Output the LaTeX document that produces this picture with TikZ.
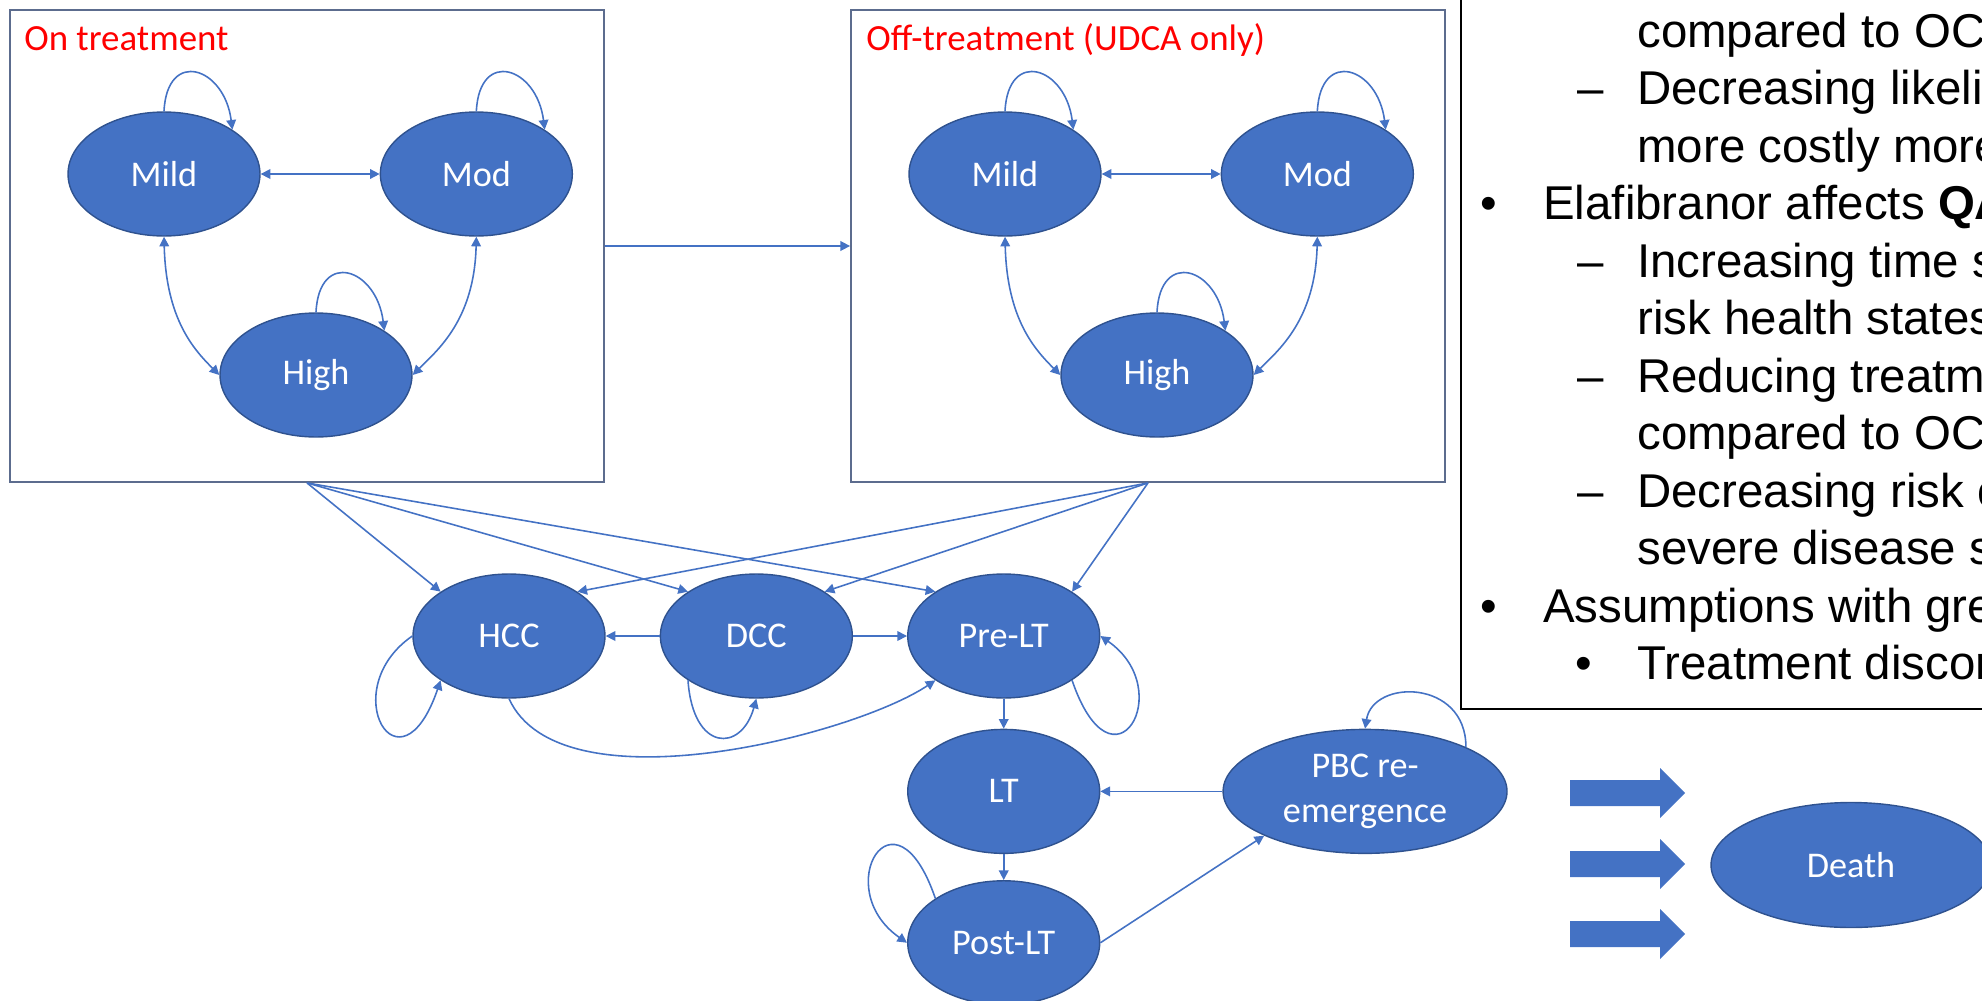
\documentclass[tikz,border=0pt]{standalone}
\usepackage{fontspec}
\setmainfont{Carlito}
\newfontfamily\notesfont{Liberation Sans}
\usepackage{tikz}
\usetikzlibrary{shapes.geometric, arrows.meta, positioning}
\definecolor{stateblue}{RGB}{68, 114, 196}
\definecolor{stateedge}{RGB}{47, 82, 143}
\definecolor{frameslate}{RGB}{92, 108, 142}
\definecolor{titlered}{RGB}{255, 0, 0}

\begin{document}
\begin{tikzpicture}[
    x=0.02cm, y=-0.02cm,
    >={Triangle[length=5.5pt, width=5.5pt]},
    state/.style={ellipse, draw=stateedge, line width=0.8pt, fill=stateblue, text=white,
                  minimum width=3.84cm, minimum height=2.48cm, inner sep=0pt,
                  font=\fontsize{20.6}{25.5}\selectfont, align=center},
    groupbox/.style={rectangle, draw=frameslate, line width=1.1pt,
                     minimum width=11.88cm, minimum height=9.44cm, inner sep=0pt},
    boxtitle/.style={anchor=base west, inner sep=0pt, text=titlered,
                     font=\fontsize{21}{24}\selectfont},
    link/.style={->, draw=stateblue, line width=0.9pt},
    twoway/.style={<->, draw=stateblue, line width=0.9pt},
    noteline/.style={anchor=base west, inner sep=0pt,
                     font=\notesfont\fontsize{27}{32}\selectfont}
]
    \useasboundingbox (0,0) rectangle (1982,1001);
    \clip (0,0) rectangle (1982,1001);

    % On treatment group
    \node[groupbox] (ontreat) at (307,246) {};
    \node[boxtitle] (ontitle) at (24,50) {On treatment};
    \node[state] (mildon) at (164,174) {Mild};
    \node[state, right=2.38cm of mildon] (modon) {Mod};
    \node[state] (highon) at (316,375) {High};

    % Off-treatment group
    \node[groupbox] (offtreat) at (1148,246) {};
    \node[boxtitle] (offtitle) at (866,50) {Off-treatment (UDCA only)};
    \node[state] (mildoff) at (1005,174) {Mild};
    \node[state, right=2.38cm of mildoff] (modoff) {Mod};
    \node[state] (highoff) at (1157,375) {High};

    % Complications
    \node[state] (hcc) at (509,636) {HCC};
    \node[state, right=1.08cm of hcc] (dcc) {DCC};
    \node[state, right=1.08cm of dcc] (prelt) {Pre-LT};
    \node[state, below=0.6cm of prelt] (lt) {LT};
    \node[state, below=0.52cm of lt] (postlt) {Post-LT};
    \node[state, minimum width=5.68cm, right=2.44cm of lt] (pbc) {PBC re-\\emergence};
    \node[state, minimum width=5.6cm, minimum height=2.5cm] (death) at (1851,865) {Death};

    % Notes panel
    \draw[line width=1.2pt] (1461,-20) rectangle (2100,709);
    \node[noteline] (n1) at (1637,47) {compared to OC};
    \node[noteline] (n2) at (1577,104.5) {\makebox[1.2cm][l]{–}Decreasing likeli};
    \node[noteline] (n3) at (1637,162) {more costly more};
    \node[noteline] (n4) at (1480,219.5) {\makebox[1.26cm][l]{•}Elafibranor affects \textbf{QA}};
    \node[noteline] (n5) at (1577,277) {\makebox[1.2cm][l]{–}Increasing time s};
    \node[noteline] (n6) at (1637,334.5) {risk health states};
    \node[noteline] (n7) at (1577,392) {\makebox[1.2cm][l]{–}Reducing treatm};
    \node[noteline] (n8) at (1637,449.5) {compared to OC};
    \node[noteline] (n9) at (1577,507) {\makebox[1.2cm][l]{–}Decreasing risk o};
    \node[noteline] (n10) at (1637,564.5) {severe disease s};
    \node[noteline] (n11) at (1480,622) {\makebox[1.26cm][l]{•}Assumptions with gre};
    \node[noteline] (n12) at (1575,679.5) {\makebox[1.24cm][l]{•}Treatment discon};

    % Moves within the groups
    \draw[twoway] (mildon) -- (modon);
    \draw[twoway] (mildon.south) .. controls +(2,83) and +(-25,-25) .. (highon.west);
    \draw[twoway] (modon.south) .. controls +(-2,83) and +(25,-25) .. (highon.east);
    \draw[link] (mildon.north) .. controls +(3,-63) and +(-8,-63) .. (mildon.north east);
    \draw[link] (modon.north) .. controls +(3,-63) and +(-8,-63) .. (modon.north east);
    \draw[link] (highon.north) .. controls +(3,-63) and +(-8,-63) .. (highon.north east);

    \draw[twoway] (mildoff) -- (modoff);
    \draw[twoway] (mildoff.south) .. controls +(2,83) and +(-25,-25) .. (highoff.west);
    \draw[twoway] (modoff.south) .. controls +(-2,83) and +(25,-25) .. (highoff.east);
    \draw[link] (mildoff.north) .. controls +(3,-63) and +(-8,-63) .. (mildoff.north east);
    \draw[link] (modoff.north) .. controls +(3,-63) and +(-8,-63) .. (modoff.north east);
    \draw[link] (highoff.north) .. controls +(3,-63) and +(-8,-63) .. (highoff.north east);

    % Stopping treatment
    \draw[link] (ontreat) -- (offtreat);

    % Progression to complications
    \draw[link] (ontreat.south) -- (hcc.north west);
    \draw[link] (ontreat.south) -- (dcc.north west);
    \draw[link] (ontreat.south) -- (prelt.north west);
    \draw[link] (offtreat.south) -- (hcc.north east);
    \draw[link] (offtreat.south) -- (dcc.north east);
    \draw[link] (offtreat.south) -- (prelt.north east);

    \draw[link] (dcc) -- (hcc);
    \draw[link] (dcc) -- (prelt);
    \draw[link] (hcc.south) .. controls +(51,112) and +(-82,55) .. (prelt.south west);
    \draw[link] (prelt) -- (lt);
    \draw[link] (lt) -- (postlt);
    \draw[link] (pbc) -- (lt);
    \draw[link] (postlt.east) -- (pbc.south west);

    % Staying put
    \draw[link] (hcc.west) .. controls +(-78,54) and +(-41,120) .. (hcc.south west);
    \draw[link] (dcc.south west) .. controls +(5,72) and +(-15,54) .. (dcc.south);
    \draw[link] (prelt.south east) .. controls +(41,120) and +(78,54) .. (prelt.east);
    \draw[link] (postlt.north west) .. controls +(-41,-120) and +(-78,-54) .. (postlt.west);
    \draw[link] (pbc.north east) .. controls +(0,-68) and +(8,-50) .. (pbc.north);

    % Transitions to death
    \fill[stateblue] (1570,780) -- ++(90,0) -- ++(0,-12) -- ++(25,25) -- ++(-25,25) -- ++(0,-12) -- ++(-90,0) -- cycle;
    \fill[stateblue] (1570,851) -- ++(90,0) -- ++(0,-12) -- ++(25,25) -- ++(-25,25) -- ++(0,-12) -- ++(-90,0) -- cycle;
    \fill[stateblue] (1570,921) -- ++(90,0) -- ++(0,-12) -- ++(25,25) -- ++(-25,25) -- ++(0,-12) -- ++(-90,0) -- cycle;
\end{tikzpicture}
\end{document}
